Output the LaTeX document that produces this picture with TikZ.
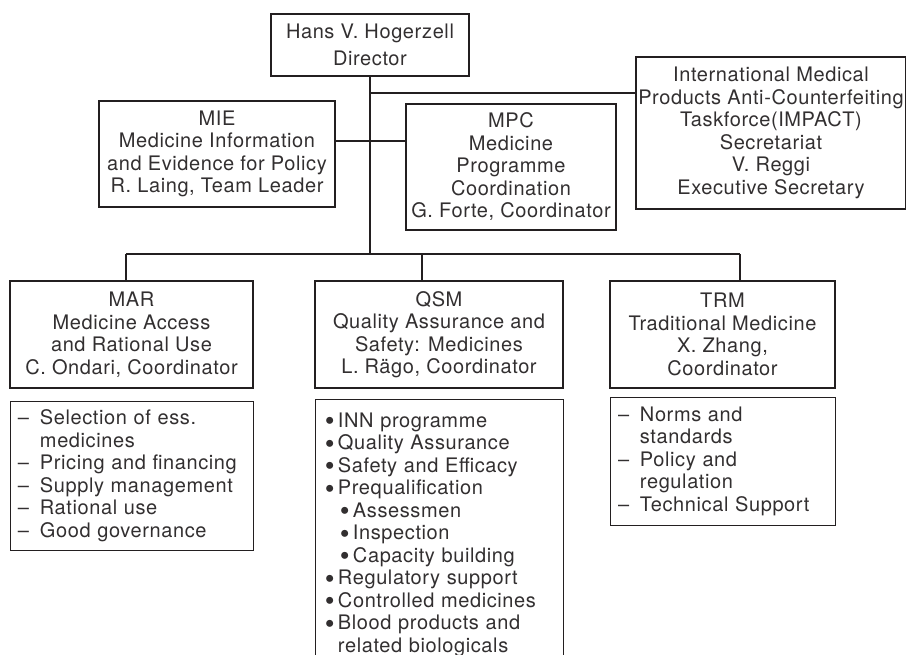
\documentclass[tikz,border=0pt]{standalone}
\usepackage{fontspec}
\setmainfont{TeX Gyre Heros}[LetterSpace=3.0]
\usepackage{graphicx}
\usetikzlibrary{positioning}
\definecolor{orgline}{RGB}{35,31,32}
\definecolor{orgtext}{RGB}{50,47,48}
\tikzstyle{unit} = [rectangle, align=center, draw=orgline, line width=2pt, text=orgtext, inner sep=2pt]
\tikzstyle{tasks} = [rectangle, align=left, draw=orgline, line width=0.9pt, text=orgtext, inner ysep=3pt]
\tikzstyle{link} = [draw=orgline, line width=1.2pt]
\newcommand{\dashitem}{\makebox[22pt][l]{--}}
\newcommand{\dashgap}{\hspace*{22pt}}
\newcommand{\dotitem}{\makebox[13pt][l]{\raisebox{-3.5pt}{\scalebox{1.4}{\textbullet}}}}
\newcommand{\dotgap}{\hspace*{13pt}}
\newcommand{\subgap}{\hspace*{15pt}}

\begin{document}
\begin{tikzpicture}[node distance=100pt, font=\fontsize{20pt}{22.5pt}\selectfont]

\path [use as bounding box] (-370pt,45pt) rectangle (536pt,-610pt);
\clip (-370pt,45pt) rectangle (536pt,-610pt);

\node (director) [unit, minimum width=198pt, minimum height=62pt] {Hans V. Hogerzell\\[4.5pt]Director};

\node (mie) [unit, below of=director, xshift=-153pt, yshift=-9pt, minimum width=236pt, minimum height=106pt] {MIE\\Medicine Information\\and Evidence for Policy\\R. Laing, Team Leader};
\node (mpc) [unit, below of=director, xshift=141pt, yshift=-22pt, minimum width=210pt, minimum height=126pt] {MPC\\Medicine\\Programme\\Coordination\\G. Forte, Coordinator};
\node (impact) [unit, right of=director, xshift=301pt, yshift=-88pt, minimum width=268pt, minimum height=152pt] {International Medical\\Products Anti-Counterfeiting\\Taskforce(IMPACT)\\Secretariat\\V. Reggi\\Executive Secretary};

\node (qsm) [unit, below of=director, xshift=69pt, yshift=-189.5pt, minimum width=248pt, minimum height=107pt] {QSM\\Quality Assurance and\\Safety: Medicines\\L. R\"ago, Coordinator};
\node (mar) [unit, left of=qsm, xshift=-207.5pt, minimum width=243pt, minimum height=107pt] {MAR\\Medicine Access\\and Rational Use\\C. Ondari, Coordinator};
\node (trm) [unit, right of=qsm, xshift=183.5pt, minimum width=225pt, minimum height=107pt] {TRM\\Traditional Medicine\\X. Zhang,\\Coordinator};

\node (marlist) [tasks, below of=mar, yshift=-41pt, inner xsep=8pt, text width=227pt, minimum height=149pt] {\dashitem Selection of ess.\\\dashgap medicines\\\dashitem Pricing and financing\\\dashitem Supply management\\\dashitem Rational use\\\dashitem Good governance};
\node (qsmlist) [tasks, below of=qsm, yshift=-100pt, inner xsep=10pt, text width=228pt, minimum height=271pt] {\dotitem INN programme\\\dotitem Quality Assurance\\\dotitem Safety and Efficacy\\\dotitem Prequalification\\\subgap\dotitem Assessmen\\\subgap\dotitem Inspection\\\subgap\dotitem Capacity building\\\dotitem Regulatory support\\\dotitem Controlled medicines\\\dotitem Blood products and\\\dotgap related biologicals};
\node (trmlist) [tasks, below of=trm, yshift=-26.5pt, inner xsep=8pt, text width=209pt, minimum height=128pt] {\dashitem Norms and\\\dashgap standards\\\dashitem Policy and\\\dashgap regulation\\\dashitem Technical Support};

\coordinate [below of=director, yshift=52pt] (tapimpact);
\coordinate [below of=director, yshift=4pt] (tapmie);
\coordinate [below of=director, yshift=-109pt] (bus);
\coordinate [left of=bus, xshift=-144pt] (busmar);
\coordinate [right of=bus, xshift=-48pt] (busqsm);
\coordinate [right of=bus, xshift=270pt] (bustrm);

\draw [link] (director) -- (bus);
\draw [link] (tapimpact) -- (tapimpact -| impact.west);
\draw [link] (tapmie -| mie.east) -- (tapmie -| mpc.west);
\draw [link] (busmar) -- (bustrm);
\draw [link] (busmar) -- (busmar |- mar.north);
\draw [link] (busqsm) -- (busqsm |- qsm.north);
\draw [link] (bustrm) -- (bustrm |- trm.north);

\end{tikzpicture}
\end{document}
